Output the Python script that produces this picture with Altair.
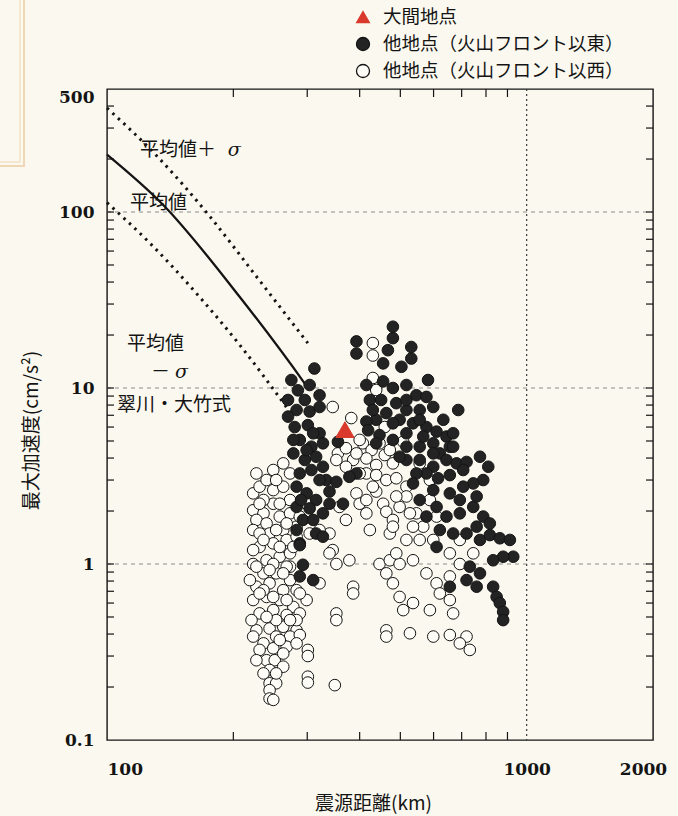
import altair as alt
import pandas as pd

# ---------------------------------------------------------------------------
# Data: hypocentral distance (km) and peak ground acceleration (cm/s^2)
# ---------------------------------------------------------------------------
SERIES = ["大間地点", "他地点（火山フロント以東）", "他地点（火山フロント以西）"]

ooma_km = [369]
ooma_acc = [5.8]

east_km = [480, 480, 393, 393, 531, 531, 467, 455, 503, 312, 582, 275, 304, 285, 321, 296,
           270, 283, 304, 321, 415, 455, 480, 517, 546, 577, 423, 450, 489, 517, 556, 599,
           687, 498, 536, 577, 610, 644, 438, 415, 280, 301, 321, 288, 307, 327, 355, 419,
           446, 480, 517, 556, 599, 656, 668, 621, 278, 296, 315, 288, 307, 327, 333, 352,
           517, 556, 599, 644, 681, 719, 774, 810, 788, 577, 615, 656, 706, 393, 378, 283,
           299, 315, 283, 304, 339, 365, 327, 599, 656, 693, 610, 644, 693, 746, 788, 288,
           315, 327, 621, 668, 719, 610, 774, 817, 863, 912, 929, 879, 832, 288, 310, 732,
           719, 774, 760, 832, 848, 863, 879, 879, 656, 293, 283, 288, 293, 546, 556, 577,
           517, 463, 430, 480, 567, 633, 668, 498, 536, 438, 278, 270, 310, 299, 321, 290,
           310, 339, 517, 556, 599, 746, 706, 760, 817, 760]
east_acc = [22.3, 19.2, 18.4, 15.7, 17.1, 14.7, 16.4, 13.8, 13.2, 12.9, 11.1, 11.1, 10.4, 9.7,
            9.1, 8.55, 8.55, 7.5, 7.35, 7.8, 10.4, 10.9, 10.0, 10.4, 9.1, 8.9, 8.55, 8.55, 8.2,
            7.5, 7.5, 7.8, 7.5, 6.6, 6.3, 6.0, 5.65, 5.3, 6.6, 6.45, 6.0, 6.15, 5.53, 5.07,
            4.64, 4.85, 4.95, 5.75, 5.4, 5.07, 4.64, 4.64, 4.85, 4.64, 5.53, 4.25, 4.25, 3.9,
            4.07, 3.27, 3.42, 3.57, 3.0, 2.93, 3.9, 3.9, 3.57, 3.9, 3.73, 3.8, 4.07, 3.57, 3.0,
            3.27, 3.07, 3.2, 3.42, 3.27, 3.13, 2.75, 2.52, 2.31, 2.11, 2.07, 2.58, 2.2, 1.94,
            2.63, 2.52, 2.31, 2.11, 1.86, 1.94, 2.11, 1.86, 1.31, 1.49, 1.43, 1.56, 1.49, 1.49,
            1.25, 1.37, 1.46, 1.40, 1.37, 1.10, 1.10, 1.05, 0.85, 0.81, 0.966, 0.81, 0.885,
            0.743, 0.743, 0.65, 0.60, 0.535, 0.48, 0.743, 1.78, 1.56, 1.28, 0.99, 3.27, 2.31,
            1.86, 5.53, 7.2, 7.5, 6.3, 5.3, 6.6, 4.64, 4.07, 2.87, 4.85, 5.07, 6.88, 5.53,
            4.44, 3.0, 2.31, 1.78, 2.2, 8.55, 6.6, 4.25, 2.87, 2.75, 2.42, 1.70, 1.63]

west_km = [430, 430, 430, 438, 345, 382, 459, 407, 427, 355, 371, 386, 415, 438, 459, 480,
           508, 556, 415, 438, 463, 489, 517, 393, 438, 455, 463, 480, 498, 588, 610, 588,
           567, 599, 423, 472, 480, 339, 345, 352, 378, 321, 304, 339, 321, 446, 472, 463,
           498, 536, 480, 577, 610, 656, 693, 386, 386, 498, 536, 588, 621, 656, 668, 508,
           352, 352, 463, 463, 527, 599, 656, 719, 693, 732, 301, 301, 301, 301, 349, 227,
           249, 263, 223, 249, 263, 273, 299, 223, 236, 249, 227, 240, 258, 273, 223, 244,
           263, 283, 231, 249, 268, 283, 223, 240, 258, 273, 236, 253, 273, 273, 227, 244,
           263, 283, 223, 240, 258, 299, 278, 231, 249, 268, 288, 227, 244, 263, 283, 236,
           253, 273, 288, 231, 249, 268, 240, 251, 244, 253, 244, 244, 223, 231, 219, 221,
           268, 236, 223, 253, 283, 263, 244, 236, 249, 288, 258, 693, 656, 746, 556, 536,
           517, 415, 400, 358, 371, 400, 472, 517, 546, 489,
           231, 240, 253, 273, 231, 268, 253, 236, 258, 278, 227, 244, 263, 231, 249, 268,
           288, 240, 273, 258, 283, 227, 263, 236, 253, 249,
           371, 393, 400, 430, 489, 527, 352, 446, 415]
west_acc = [18.0, 15.3, 11.4, 9.75, 7.8, 6.75, 6.0, 4.85, 4.44, 4.25, 4.55, 3.9, 3.98, 3.65,
            4.16, 3.73, 4.95, 3.73, 3.27, 3.2, 3.0, 3.07, 2.75, 2.52, 2.58, 2.2, 1.98, 1.78,
            2.11, 2.31, 1.86, 3.0, 1.63, 1.37, 1.56, 1.49, 1.63, 1.49, 1.20, 1.0, 1.05, 1.56,
            1.49, 1.15, 0.777, 1.0, 1.05, 0.885, 1.0, 1.05, 0.777, 0.885, 0.777, 0.85, 1.0,
            0.743, 0.68, 0.65, 0.60, 0.547, 0.68, 0.624, 0.524, 0.547, 0.524, 0.48, 0.42,
            0.387, 0.404, 0.387, 0.395, 0.387, 0.354, 0.325, 0.325, 0.30, 0.229, 0.212, 0.205,
            3.27, 3.42, 3.73, 2.52, 2.63, 2.75, 2.31, 2.2, 2.02, 1.94, 2.2, 1.78, 1.70, 1.86,
            1.94, 1.56, 1.49, 1.56, 1.63, 1.25, 1.31, 1.37, 1.43, 1.0, 1.05, 1.10, 1.15, 0.885,
            0.885, 0.81, 0.966, 0.743, 0.777, 0.71, 0.71, 0.624, 0.65, 0.624, 0.624, 0.57,
            0.524, 0.547, 0.513, 0.524, 0.42, 0.43, 0.44, 0.42, 0.354, 0.387, 0.387, 0.395,
            0.325, 0.332, 0.339, 0.284, 0.284, 0.21, 0.21, 0.192, 0.172, 1.20, 1.49, 0.81,
            0.48, 0.966, 0.71, 0.387, 0.48, 0.48, 0.261, 0.25, 2.31, 1.0, 1.86, 2.2, 1.37,
            1.15, 1.15, 1.37, 1.63, 1.37, 1.94, 2.2, 2.11, 1.78, 5.07, 4.44, 2.42, 1.94, 1.15,
            2.75, 3.0, 3.0, 3.27, 2.2, 1.70, 1.56, 1.37, 1.25, 1.25, 0.966, 0.925, 0.885, 0.68,
            0.65, 0.624, 0.68, 0.50, 0.48, 0.37, 0.354, 0.284, 0.31, 0.239, 0.239, 0.169,
            3.57, 4.25, 3.27, 2.75, 2.42, 1.94, 3.9, 4.85, 2.31]

# Si-Midorikawa attenuation relation: mean and mean +/- one sigma
mean_km = [100, 136, 207, 296, 303]
mean_acc = [212, 110, 33, 10.6, 9.8]
plus_km = [100, 132, 176, 227, 301]
plus_acc = [390, 206, 94, 43, 18.0]
minus_km = [100, 127, 166, 207, 273]
minus_acc = [113, 66, 33, 17.6, 7.3]

# Curve annotations (Japanese text) and the sigma symbols set in italic serif
ann_text = ["平均値＋", "平均値", "平均値", "－", "翠川・大竹式"]
ann_km = [119.8, 113.4, 111.6, 127.3, 105.6]
ann_acc = [225, 112.5, 17.8, 12.3, 8.0]
sigma_km = [194, 145.2]
sigma_acc = [225, 12.3]

# Axis ticks, labels and reference lines
km_labels = [100, 1000, 2000]
acc_labels = [0.1, 1, 10, 100, 500]
km_minor = [200, 300, 400, 500, 600, 700, 800, 900]
acc_minor = [0.2, 0.3, 0.4, 0.5, 0.6, 0.7, 0.8, 0.9, 1, 2, 3, 4, 5, 6, 7, 8, 9, 10,
             20, 30, 40, 50, 60, 70, 80, 90, 100, 200, 300, 400]
grid_acc = [1, 10, 100]
grid_km = [1000]

# ---------------------------------------------------------------------------
W, H = 546, 651
INK = "#141414"
RED = "#d93a2b"
BLACK_FILL = "#232323"
OPEN_FILL = "#fdfcf6"
JP = "Noto Sans CJK JP"
NUM = "DejaVu Serif"

x_scale = alt.Scale(type="log", domain=[100, 2000], nice=False)
y_scale = alt.Scale(type="log", domain=[0.1, 500], nice=False)

x_axis = alt.Axis(
    values=km_labels, format="d", ticks=False, tickSize=0, domain=False, grid=False,
    labelFont=NUM, labelFontWeight="bold", labelFontSize=17, labelColor=INK, labelPadding=21,
    labelAlign={"condition": {"test": "datum.value <= 100", "value": "left"}, "value": "center"},
    labelOffset={"condition": {"test": "datum.value >= 2000", "value": -10}, "value": 0},
    title="震源距離(km)", titleFont=JP, titleFontSize=19, titleFontWeight="normal",
    titleColor=INK, titleX=266, titleY=63, titleAlign="center", titleBaseline="middle",
)
y_axis = alt.Axis(
    values=acc_labels, format="~g", ticks=False, tickSize=0, domain=False, grid=False,
    labelFont=NUM, labelFontWeight="bold", labelFontSize=17, labelColor=INK, labelPadding=13,
    labelBaseline={"condition": {"test": "datum.value >= 500", "value": "top"}, "value": "middle"},
    title="最大加速度(cm/s²)", titleFont=JP, titleFontSize=19, titleFontWeight="normal",
    titleColor=INK, titleX=-76, titleY=341, titleAngle=-90, titleAlign="center",
    titleBaseline="middle",
)


def X(field="km"):
    return alt.X(f"{field}:Q", scale=x_scale, axis=x_axis)


def Y(field="acc"):
    return alt.Y(f"{field}:Q", scale=y_scale, axis=y_axis)


one = pd.DataFrame({"k": [0]})

# Faint page border in the upper-left corner
corner = alt.layer(
    alt.Chart(one).mark_rect(fillOpacity=0, stroke="#efd7b4", strokeWidth=2).encode(
        x=alt.value(-125), x2=alt.value(-83), y=alt.value(-100), y2=alt.value(77)),
    alt.Chart(one).mark_rect(fillOpacity=0, stroke="#f3e2c8", strokeWidth=1.5).encode(
        x=alt.value(-125), x2=alt.value(-87), y=alt.value(-100), y2=alt.value(73)),
)

# Reference lines
grid_h = alt.Chart(pd.DataFrame({"acc": grid_acc})).mark_rule(
    color="#8c8c8c", strokeDash=[4, 4], strokeWidth=1).encode(
    y=Y(), x=alt.value(0), x2=alt.value(W))
grid_v = alt.Chart(pd.DataFrame({"km": grid_km})).mark_rule(
    color="#3a3a3a", strokeDash=[2, 3], strokeWidth=1.2).encode(
    x=X(), y=alt.value(0), y2=alt.value(H))

# Inward minor ticks on all four sides
kdf = pd.DataFrame({"km": km_minor})
adf = pd.DataFrame({"acc": acc_minor})
tick_style = dict(color=INK, strokeWidth=1.2)
ticks = alt.layer(
    alt.Chart(kdf).mark_rule(**tick_style).encode(x=X(), y=alt.value(H), y2=alt.value(H - 8)),
    alt.Chart(kdf).mark_rule(**tick_style).encode(x=X(), y=alt.value(0), y2=alt.value(8)),
    alt.Chart(adf).mark_rule(**tick_style).encode(y=Y(), x=alt.value(0), x2=alt.value(7)),
    alt.Chart(adf).mark_rule(**tick_style).encode(y=Y(), x=alt.value(W - 7), x2=alt.value(W)),
)

# Attenuation curves
mean_line = alt.Chart(pd.DataFrame({"km": mean_km, "acc": mean_acc})).mark_line(
    color=INK, strokeWidth=2.3, interpolate="monotone").encode(x=X(), y=Y())
plus_line = alt.Chart(pd.DataFrame({"km": plus_km, "acc": plus_acc})).mark_line(
    color=INK, strokeWidth=3, strokeDash=[2.5, 5], interpolate="monotone").encode(x=X(), y=Y())
minus_line = alt.Chart(pd.DataFrame({"km": minus_km, "acc": minus_acc})).mark_line(
    color=INK, strokeWidth=3, strokeDash=[2.5, 5], interpolate="monotone").encode(x=X(), y=Y())

labels = alt.Chart(pd.DataFrame({"km": ann_km, "acc": ann_acc, "label": ann_text})).mark_text(
    align="left", baseline="middle", font=JP, fontSize=19, color=INK).encode(
    x=X(), y=Y(), text="label:N")
sigmas = alt.Chart(pd.DataFrame({"km": sigma_km, "acc": sigma_acc})).mark_text(
    align="left", baseline="middle", font=NUM, fontStyle="italic", fontSize=19,
    color=INK).encode(x=X(), y=Y(), text=alt.value("σ"))

# Observed records: open circles, filled circles, then the Ooma site on top
dot = dict(shape="circle", filled=True, opacity=1, strokeWidth=1, stroke=INK, size=135)
west = alt.Chart(pd.DataFrame({"km": west_km, "acc": west_acc})).mark_point(
    fill=OPEN_FILL, **dot).encode(x=X(), y=Y())
east = alt.Chart(pd.DataFrame({"km": east_km, "acc": east_acc})).mark_point(
    fill=BLACK_FILL, **dot).encode(x=X(), y=Y())
ooma = alt.Chart(pd.DataFrame({"km": ooma_km, "acc": ooma_acc})).mark_point(
    shape="triangle-up", filled=True, opacity=1, fill=RED, stroke=RED, strokeWidth=1,
    size=330).encode(x=X(), y=Y())

# Legend (upper right, above the plot frame): symbols with their labels
LEG_X, LEG_TX = 256, 276
LEG_Y = [-72, -45, -18]
leg_marks = [
    dict(shape="triangle-up", fill=RED, stroke=RED, size=160),
    dict(shape="circle", fill=BLACK_FILL, stroke=INK, size=170),
    dict(shape="circle", fill=OPEN_FILL, stroke=INK, size=170),
]
legend_layers = []
for name, ly, style in zip(SERIES, LEG_Y, leg_marks):
    legend_layers.append(
        alt.Chart(one).mark_point(filled=True, opacity=1, strokeWidth=1.3, **style).encode(
            x=alt.value(LEG_X), y=alt.value(ly)))
    legend_layers.append(
        alt.Chart(one).mark_text(align="left", baseline="middle", font=JP, fontSize=18.5,
                                 color=INK).encode(
            x=alt.value(LEG_TX), y=alt.value(ly), text=alt.value(name)))

chart = alt.layer(
    corner, grid_h, grid_v, ticks, minus_line, plus_line, mean_line, labels, sigmas,
    west, east, ooma, *legend_layers,
).properties(
    width=W, height=H,
    autosize=alt.AutoSizeParams(type="none"),
    padding={"left": 107, "top": 89, "right": 25, "bottom": 76},
    background="#fbf9ef",
).configure_view(stroke=INK, strokeWidth=1.4)

chart.save("out.html", embed_options={"renderer": "svg", "actions": False})
